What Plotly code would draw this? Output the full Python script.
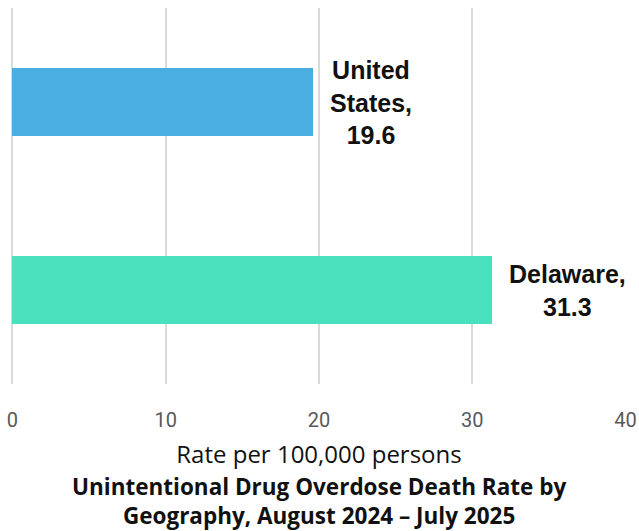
import plotly.graph_objects as go

categories = ["Delaware", "United States"]
values = [31.3, 19.6]
label_texts = ["Delaware,<br>31.3", "United<br>States,<br>19.6"]
colors = ["#48E0BD", "#4AAFE0"]
tick_vals = [0, 10, 20, 30, 40]

fig = go.Figure()
fig.add_trace(go.Bar(
    y=categories, x=values, orientation="h",
    marker=dict(color=colors, line=dict(width=0)),
    width=0.36, hoverinfo="skip",
))

for cat, val, txt in zip(categories, values, label_texts):
    fig.add_annotation(
        x=val, y=cat, xref="x", yref="y", text=txt, showarrow=False,
        xanchor="left", xshift=15, align="center",
        font=dict(family="Liberation Sans", size=25, color="#111111", weight="bold"),
    )

fig.add_annotation(
    x=0.5, y=0, xref="paper", yref="paper", yshift=-85, yanchor="top",
    text="Unintentional Drug Overdose Death Rate by<br>Geography, August 2024 \u2013 July 2025",
    showarrow=False, align="center",
    font=dict(family="Open Sans", size=22.5, color="#111111", weight="bold"),
)

fig.update_layout(
    width=639, height=531,
    margin=dict(l=12, r=13, t=8, b=147, autoexpand=False),
    plot_bgcolor="white", paper_bgcolor="white",
    showlegend=False,
    bargap=0,
    xaxis=dict(
        range=[-0.03, 40.03], tickvals=tick_vals, showgrid=True, automargin=False,
        gridcolor="#D9D9D9", gridwidth=1.5, zeroline=True,
        zerolinecolor="#D9D9D9", zerolinewidth=1.5, showline=False,
        tickfont=dict(family="Roboto", size=20, color="#595959"),
        ticks="", ticklabelstandoff=22,
        title=dict(text="Rate per 100,000 persons", standoff=15,
                   font=dict(family="Open Sans", size=24, color="#111111")),
    ),
    yaxis=dict(
        range=[-0.5, 1.5], showticklabels=False, showgrid=False, automargin=False,
        zeroline=False, showline=False, ticks="",
    ),
)

fig.write_html("out.html", config={"displayModeBar": False},
               post_script="document.body.style.margin='0';")
